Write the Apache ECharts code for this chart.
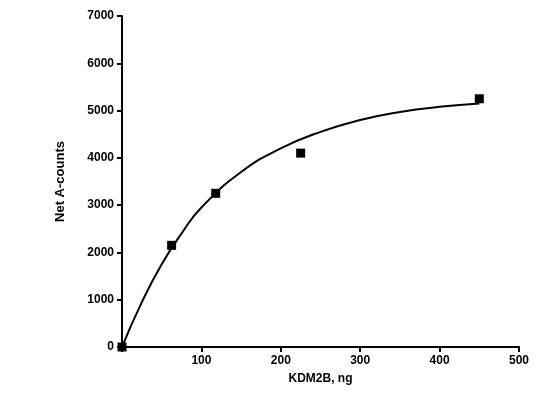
<!DOCTYPE html>
<html><head><meta charset="utf-8">
<script src="https://cdn.jsdelivr.net/npm/echarts@6/dist/echarts.min.js"></script>
<style>html,body{margin:0;background:#fff}#c{width:552px;height:401px}</style>
</head><body><div id="c"></div>
<script>
// measured points
const pointsX = [0, 62.5, 118, 225, 450];
const pointsY = [0, 2150, 3250, 4100, 5250];
// fitted curve
const curveX = [0, 25, 50, 75, 100, 150, 200, 250, 300, 350, 400, 450];
const curveY = [0, 950, 1750, 2400, 2950, 3700, 4200, 4550, 4800, 4970, 5080, 5150];

const font = 'Arial, "Liberation Sans", sans-serif';
const chart = echarts.init(document.getElementById('c'));
chart.setOption({
  animation: false,
  grid: {left: 122, right: 33, top: 16, bottom: 54},
  xAxis: {
    type: 'value', min: 0, max: 500, interval: 100,
    name: 'KDM2B, ng', nameLocation: 'middle', nameGap: 26,
    nameTextStyle: {fontFamily: font, fontWeight: 'bold', fontSize: 12, color: '#000'},
    axisLine: {lineStyle: {color: '#000', width: 2}},
    axisTick: {lineStyle: {color: '#000', width: 2}, length: 5},
    axisLabel: {fontFamily: font, fontWeight: 'bold', fontSize: 12, color: '#000',
      formatter: v => v === 0 ? '' : String(v)},
    splitLine: {show: false}
  },
  yAxis: {
    type: 'value', min: 0, max: 7000, interval: 1000,
    name: 'Net A-counts', nameLocation: 'middle', nameGap: 55,
    nameTextStyle: {fontFamily: font, fontWeight: 'bold', fontSize: 13, color: '#000'},
    axisLine: {show: true, lineStyle: {color: '#000', width: 2}},
    axisTick: {show: true, lineStyle: {color: '#000', width: 2}, length: 5},
    axisLabel: {fontFamily: font, fontWeight: 'bold', fontSize: 12, color: '#000',
      formatter: v => String(v)},
    splitLine: {show: false}
  },
  series: [
    {type: 'line', data: curveX.map((x, i) => [x, curveY[i]]), smooth: true,
     showSymbol: false, lineStyle: {color: '#000', width: 2}},
    {type: 'scatter', data: pointsX.map((x, i) => [x, pointsY[i]]),
     symbol: 'rect', symbolSize: 9, itemStyle: {color: '#000', opacity: 1}}
  ]
});
</script></body></html>
